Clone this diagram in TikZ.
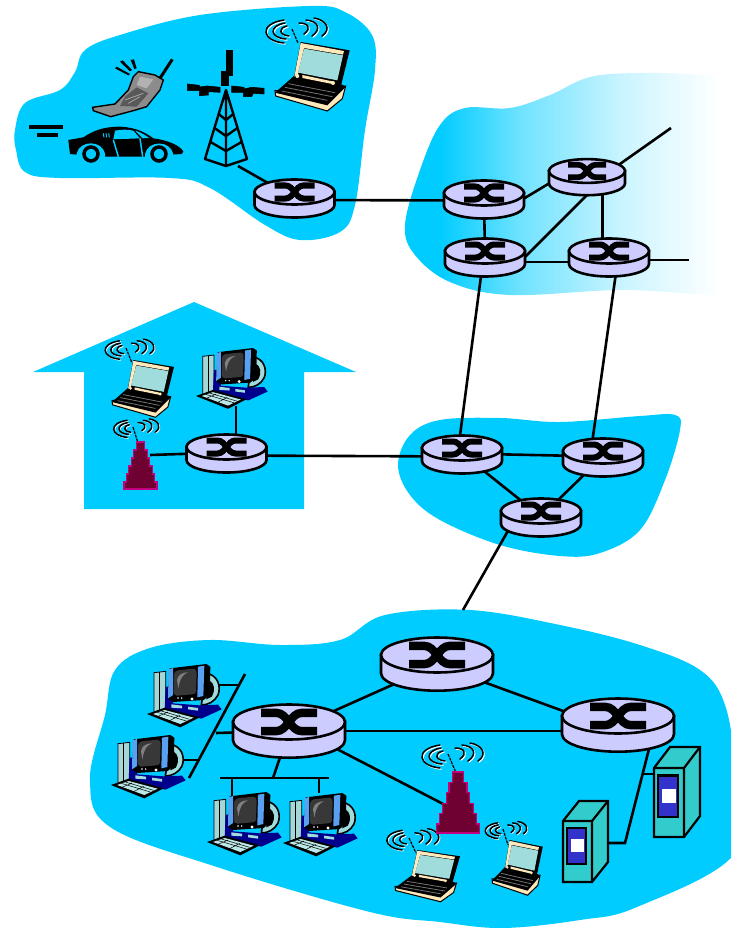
\documentclass[tikz,border=0pt]{standalone}
\usetikzlibrary{shapes.geometric,calc}
\definecolor{netblue}{RGB}{0,204,255}
\definecolor{lav}{RGB}{204,204,255}
\definecolor{scr}{RGB}{160,220,220}
\definecolor{cream}{RGB}{255,232,185}
\definecolor{teal1}{RGB}{51,204,204}
\definecolor{pblue}{RGB}{51,51,204}
\definecolor{maro}{RGB}{110,0,50}
\definecolor{mage}{RGB}{195,0,125}
\definecolor{monblue}{RGB}{90,160,240}
\definecolor{towr}{RGB}{165,215,215}
\definecolor{dkblue}{RGB}{0,0,140}
\definecolor{phone}{RGB}{140,140,140}
\pgfdeclarehorizontalshading{netfade}{100bp}{color(0bp)=(netblue); color(30bp)=(netblue); color(42bp)=(netblue!55!white); color(56.6bp)=(netblue!20!white); color(70bp)=(white); color(100bp)=(white)}
\tikzset{
 blob/.style={fill=netblue,draw=none},
 conn/.style={draw=black,line width=2.6pt},
 rnode/.style={shape=ellipse,inner sep=0pt,outer sep=0pt,minimum width=80pt,minimum height=37pt},
 bignode/.style={shape=ellipse,inner sep=0pt,outer sep=0pt,minimum width=112pt,minimum height=52pt}
}
\newcommand\rtrart[3]{%
 \begin{scope}[shift={(#1,#2)},scale=#3]
 \draw[fill=lav,line width=2.6pt] (-40,0) -- (-40,13) .. controls (-40,20) and (-22,25.5) .. (0,25.5) .. controls (22,25.5) and (40,20) .. (40,13) -- (40,0) -- cycle;
 \draw[fill=lav,line width=2.6pt] (0,0) ellipse [x radius=40,y radius=12.5];
 \draw[line width=#3*6pt] (-20,-6.5) -- (-9,-6.5) .. controls (-1,-6.5) and (1,6.5) .. (9,6.5) -- (20,6.5);
 \draw[line width=#3*6pt] (-20,6.5) -- (-9,6.5) .. controls (-1,6.5) and (1,-6.5) .. (9,-6.5) -- (20,-6.5);
 \end{scope}}
\newcommand\waveart[3]{%
 \begin{scope}[shift={(#1,#2)},scale=#3,line cap=round]
 \foreach \dx/\col/\lw in {1.1/white/1.3pt,0/black/1.5pt}{
 \begin{scope}[shift={(\dx,\dx)},draw=\col,line width=\lw]
 \draw (-8,-9) .. controls (-34,-5) and (-30,12) .. (-8,14);
 \draw (-7,-6) .. controls (-24,-3) and (-22,9) .. (-6,10);
 \draw (-5,-3) .. controls (-14,-1) and (-13,6) .. (-3,7);
 \draw (22,-11) .. controls (34,-9) and (40,0) .. (30,7);
 \draw (14,-9) .. controls (26,-8) and (30,0) .. (20,7);
 \draw (7,-6) .. controls (16,-6) and (20,-1) .. (12,5);
 \end{scope}}
 \end{scope}}
\newcommand\lapart[4]{%
 \begin{scope}[shift={(#1,#2)},xscale=#3/3,yscale=#4/3]
 \begin{scope}[shift={(-828,-130)}]
 \draw[fill=cream,line width=1pt] (828,276) -- (830,292) -- (985,337) -- (1030,300) -- (1040,262) -- cycle;
 \fill (885,232) -- (1030,258) -- (1040,265) -- (985,320) -- (828,282) -- cycle;
 \draw[black!55,line width=.8pt] (868,255) -- (1008,282) (858,266) -- (1000,294) (848,277) -- (985,305);
 \fill (905,130) -- (1052,155) -- (1025,265) -- (885,235) -- cycle;
 \fill[cream] (905,133) -- (1035,157) -- (1032,168) -- (915,148) -- (897,225) -- (886,234) -- cycle;
 \fill[scr] (915,150) -- (1032,170) -- (1015,245) -- (897,222) -- cycle;
 \fill[cream] (910,229) -- (1000,248) -- (1000,256) -- (910,238) -- cycle;
 \fill[cream] (895,232) circle [radius=6] (1002,253) circle [radius=6];
 \end{scope}
 \end{scope}}
\newcommand\pcart[3]{%
 \begin{scope}[shift={(#1,#2)},scale=#3/3]
 \begin{scope}[shift={(-172,-72)}]
 \draw[fill=towr,line width=.8pt] (193,98) -- (228,94) -- (228,205) -- (193,222) -- cycle;
 \draw[line width=.6pt] (210,96) -- (210,212);
 \draw[fill=scr,line width=1.6pt] (350,100) .. controls (385,105) and (395,140) .. (385,165) .. controls (375,185) and (355,195) .. (335,195) -- cycle;
 \fill (358,120) .. controls (375,130) and (378,150) .. (366,170) -- (350,178) -- cycle;
 \fill[dkblue] (228,140) -- (250,140) -- (250,190) -- (330,196) -- (385,194) -- (396,208) -- (335,236) -- (225,208) -- cycle;
 \fill (172,222) -- (225,203) -- (330,232) -- (272,262) -- cycle;
 \fill[scr!70!white] (190,222) -- (225,210) -- (312,233) -- (272,252) -- cycle;
 \draw[black,line width=.5pt] (203,217) -- (290,243) (215,213) -- (300,238) (235,216) -- (205,229) (270,226) -- (240,242);
 \fill[scr] (245,193) -- (277,197) -- (277,205) -- (245,203) -- cycle (295,200) -- (325,204) -- (325,212) -- (295,208) -- cycle;
 \fill (240,85) -- (350,72) -- (362,80) -- (360,165) -- (342,180) -- (250,186) -- (235,175) -- cycle;
 \fill[monblue] (237,88) -- (250,84) -- (250,165) -- (235,175) -- cycle;
 \fill[monblue] (325,80) -- (344,77) -- (341,168) -- (323,172) -- cycle;
 \fill[black!78] (253,105) .. controls (253,95) and (262,90) .. (272,90) -- (312,86) .. controls (320,86) and (321,92) .. (321,100) -- (319,155) .. controls (319,160) and (315,163) .. (308,163) -- (262,167) .. controls (255,167) and (252,160) .. (252,155) -- cycle;
 \fill[gray] (262,120) .. controls (265,103) and (280,97) .. (295,97) .. controls (280,103) and (272,112) .. (266,145) -- cycle;
 \fill[white] (265,174) circle [radius=2.5] (276,174) circle [radius=2.5] (307,177) circle [radius=5];
 \end{scope}
 \end{scope}}
\newcommand\srvart[6]{%
 \begin{scope}[shift={(#1,#2)},line width=2.2pt,line join=miter]
 \draw[fill=teal1] (0,0) -- (#5,-#6) -- (#3+#5,-#6) -- (#3+#5,#4-#6) -- (#3,#4) -- (0,#4) -- cycle;
 \draw (0,0) -- (#3,0) -- (#3,#4) (#3,0) -- (#3+#5,-#6);
 \draw[fill=pblue] (.14*#3,.11*#4) rectangle (.8*#3,.71*#4);
 \fill[white] (.28*#3,.3*#4) rectangle (.72*#3,.51*#4);
 \end{scope}}
\newcommand\btsart[3]{%
 \begin{scope}[shift={(#1,#2)},scale=#3]
 \draw[draw=mage,fill=maro,line width=1.3pt] (-4,0) -- (4,0) -- (4,8) -- (7,8) -- (7,16) -- (9,16) -- (9,24) -- (12,24) -- (12,32) -- (14,32) -- (14,40) -- (16.5,40) -- (16.5,47) -- (-16.5,47) -- (-16.5,40) -- (-14,40) -- (-14,32) -- (-12,32) -- (-12,24) -- (-9,24) -- (-9,16) -- (-7,16) -- (-7,8) -- (-4,8) -- cycle;
 \end{scope}}
\begin{document}
\begin{tikzpicture}[x=1pt,y=-1pt]
\useasboundingbox (0,0) rectangle (731,928);
% clouds
\fill[blob] plot[smooth cycle,tension=.6] coordinates {(15,130) (25,103) (60,90) (75,72) (85,50) (120,35) (200,15) (310,6) (345,12) (372,35) (375,70) (365,130) (355,205) (340,232) (300,240) (265,225) (210,188) (170,178) (60,178) (25,172) (16,150)};
\begin{scope}
\clip (0,0) rectangle (731,928);
\shade[shading=netfade,shading angle=0] plot[smooth cycle,tension=.6] coordinates {(405,225) (420,170) (440,125) (465,108) (510,108) (550,95) (590,77) (640,73) (700,75) (745,82) (750,180) (745,292) (700,294) (620,290) (510,295) (450,282) (415,255)};
\end{scope}
\fill[blob] plot[smooth cycle,tension=.6] coordinates {(398,465) (410,435) (440,420) (500,418) (560,422) (640,416) (675,415) (680,430) (665,480) (640,530) (600,553) (560,556) (500,545) (440,520) (410,495)};
\fill[blob] (33,372) -- (194,302) -- (356,372) -- (304,372) -- (304,509) -- (84,509) -- (84,372) -- cycle;
\begin{scope}
\clip (0,0) rectangle (731,928);
\fill[blob] plot[smooth cycle,tension=.6] coordinates {(90,780) (105,715) (115,670) (150,648) (210,640) (280,645) (340,640) (385,615) (470,610) (560,625) (640,645) (700,670) (725,705) (735,770) (735,853) (637,907) (580,920) (503,928) (440,922) (370,912) (217,867) (110,827)};
\end{scope}
% router nodes
\node[rnode] (r1) at (294.5,198) {};
\node[rnode] (ra) at (484,198.5) {};
\node[rnode] (rb) at (485,257) {};
\node[rnode] (rc) at (587,176.5) {};
\node[rnode] (rd) at (609,257) {};
\node[rnode] (re) at (462,453.5) {};
\node[rnode] (rf) at (603,456.5) {};
\node[rnode] (rg) at (541,516.5) {};
\node[rnode] (rh) at (226.5,452.5) {};
\node[bignode] (ri) at (437,665) {};
\node[bignode] (rj) at (289,731) {};
\node[bignode] (rk) at (618,731) {};
% connector end points
\coordinate (towerfoot) at (238,166);
\coordinate (freec) at (671,128);
\coordinate (freed) at (689,260);
\coordinate (freeg) at (463,610);
\coordinate (homebts) at (150,455);
\coordinate (homepc) at (236,406);
\coordinate (entbts) at (449,807);
\coordinate (busl) at (220,778);
\coordinate (busr) at (329,778);
\coordinate (busj) at (273,778);
\coordinate (pc3top) at (232,796);
\coordinate (buspc3) at (232,778);
\coordinate (pc4top) at (319,793);
\coordinate (buspc4) at (319,778);
\coordinate (diagt) at (245,674);
\coordinate (diagb) at (189,778);
\coordinate (pc1r) at (218,685);
\coordinate (pc1b) at (239,685);
\coordinate (pc2r) at (184,760);
\coordinate (pc2b) at (198,760);
\coordinate (jb) at (216,733);
\coordinate (kelbow) at (625,843);
\coordinate (s1r) at (605,843);
\coordinate (kj) at (643,774);
\coordinate (s2l) at (654,774);
\coordinate (kfoot) at (650,745);
% connectors
\path[conn] (towerfoot) -- (r1);
\path[conn] (r1.center) ++(0,2) -- ($(ra.center)+(0,2)$);
\path[conn] (ra) -- (rb);
\path[conn] (ra.east) -- (rc.-170);
\path[conn] (rc.-48) -- (rc.-48 |- rd.north);
\path[conn] (rb.center) ++(0,5) -- ($(rd.center)+(0,5)$);
\path[conn] (rb.east) -- (rc.south);
\path[conn] (rc.20) -- (freec);
\path[conn] (rd.center |- freed) -- (freed);
\path[conn] (rb.-102) -- (re.96);
\path[conn] (rd.-70) -- (rf.120);
\path[conn] (rh.center) ++(0,3) -- ($(re.center)+(0,3)$);
\path[conn] (re.center) -- (rf.center);
\path[conn] (re) -- (rg);
\path[conn] (rf) -- (rg);
\path[conn] (rg.-160) -- (freeg);
\path[conn] (homebts) -- (rh);
\path[conn] (homepc) -- (homepc |- rh.north);
\path[conn] (ri) -- (rj);
\path[conn] (ri) -- (rk);
\path[conn] (rj) -- (rk);
\path[conn] (rj.-20) -- (entbts);
\path[conn] (rj) -- (busj);
\path[conn] (busl) -- (busr);
\path[conn] (buspc3) -- (pc3top);
\path[conn] (buspc4) -- (pc4top);
\path[conn] (diagt) -- (diagb);
\path[conn] (pc1r) -- (pc1b);
\path[conn] (pc2r) -- (pc2b);
\path[conn] (jb) -- (rj);
\path[conn] (kfoot) -- (kelbow) -- (s1r);
\path[conn] (kj) -- (s2l);
% routers
\rtrart{294.5}{192}{1}
\rtrart{484}{193}{1}
\rtrart{485}{251}{1}
\rtrart{587}{171}{.95}
\rtrart{609}{251}{1}
\rtrart{462}{448}{1}
\rtrart{603}{451}{1}
\rtrart{541}{511}{1}
\rtrart{226.5}{447}{1}
\rtrart{437}{655}{1.4}
\rtrart{289}{722}{1.4}
\rtrart{618}{716}{1.4}
% tower
\begin{scope}[line width=2.4pt,line join=round]
\draw (226,90) -- (205,159) -- (226,166) -- (247,159) -- cycle (226,90) -- (226,166);
\draw (218.7,114) -- (226,120) -- (233.3,114) (214.5,128) -- (226,136) -- (237.5,128) (210.5,142) -- (226,151) -- (241.5,142);
\end{scope}
\filldraw[line width=.6pt] (226.7,50.7) -- (232.7,50.7) -- (232.7,75) -- (228.3,75) -- (228.3,85) -- (221.7,85) -- (221.7,71.7) -- (226.7,71.7) -- cycle;
\filldraw[line width=.6pt] (187.3,84) -- (199.3,85.3) -- (199.3,87) -- (207.3,86) -- (220,87.3) -- (220,92.3) -- (208.3,91.7) -- (208.3,95) -- (199.3,95.7) -- (199.3,90.7) -- (187.3,90.7) -- cycle;
\filldraw[line width=.6pt] (231.7,86) -- (244,87.3) -- (244,89) -- (251.7,87.3) -- (264,88.3) -- (264,94) -- (253.3,93.3) -- (251.7,96.7) -- (243.3,96.7) -- (243.3,92.3) -- (231.7,92.3) -- cycle;
% phone
\begin{scope}[scale=1/3]
\draw[line width=3pt] (470,250) -- (517,178);
\fill (345,205) -- (350,200) -- (390,222) -- (385,226) -- cycle (360,185) -- (368,181) -- (396,210) -- (390,214) -- cycle (392,180) -- (402,178) -- (410,205) -- (403,207) -- cycle;
\draw[fill=phone,line width=1.4pt] (415,215) -- (465,225) -- (490,240) -- (480,270) -- (440,320) -- (400,332) -- (332,350) -- (280,332) -- (278,322) -- (345,312) -- (385,270) -- (400,230) -- cycle;
\fill[black!65] (375,290) -- (410,262) -- (445,280) -- (410,320) -- (360,318) -- cycle;
\draw[white!70!black,line width=.7pt] (375,300) -- (430,280) (385,310) -- (420,290);
\fill[black!30] (420,230) -- (460,238) -- (440,265) -- (410,255) -- cycle;
\end{scope}
% car
\begin{scope}[scale=1/3]
\draw[line width=4pt] (88,382) -- (190,382) (112,404) -- (175,404);
\fill (205,420) -- (250,412) .. controls (280,392) and (310,380) .. (360,380) .. controls (410,382) and (440,400) .. (460,415) .. controls (500,420) and (540,435) .. (550,455) -- (545,462) -- (500,465) -- (450,470) -- (300,470) -- (210,462) -- cycle;
\fill[netblue] (345,392) .. controls (365,388) and (385,388) .. (400,392) -- (420,415) -- (340,418) -- cycle;
\fill[netblue] (405,392) .. controls (420,395) and (435,405) .. (448,414) -- (428,415) -- cycle;
\draw[netblue,line width=1.5pt] (340,420) -- (355,470) (420,415) -- (428,470);
\fill[netblue] (230,460) .. controls (240,420) and (305,420) .. (315,460) -- (315,490) -- (230,490) -- cycle;
\fill[netblue] (435,462) .. controls (445,420) and (510,420) .. (520,462) -- (520,490) -- (435,490) -- cycle;
\draw[line width=3.5pt] (273,462) circle [radius=21] (477,462) circle [radius=21];
\draw[netblue,line width=1pt] (310,400) -- (312,412) (318,400) -- (320,412) (326,400) -- (328,412);
\end{scope}
% laptops
\lapart{275}{42}{1}{1}
\lapart{112}{360}{.83}{.83}
\lapart{395}{850}{.87}{.75}
\lapart{492}{840}{.68}{.8}
% antennas and waves
\draw[line width=1.2pt,dash pattern=on 3pt off 1pt] (292,29) -- (298,43) (126,348) -- (132,363) (409,838) -- (416,853) (503,829) -- (508,845) (133,427) -- (138,443) (448,754) -- (457,775);
\waveart{292}{29}{1}
\waveart{126}{348}{.8}
\waveart{409}{838}{.85}
\waveart{503}{829}{.68}
\waveart{133}{427}{.74}
\waveart{448}{754}{1}
% base stations
\btsart{140.5}{442}{1}
\btsart{458}{772}{1.3}
% desktops
\pcart{196}{348}{.96}
\pcart{147}{664}{1}
\pcart{111}{735}{1}
\pcart{207}{792}{1}
\pcart{283}{793}{1}
% servers
\srvart{563}{821}{29}{61}{16}{20}
\srvart{654}{768}{30}{69}{16}{21}
\end{tikzpicture}
\end{document}
